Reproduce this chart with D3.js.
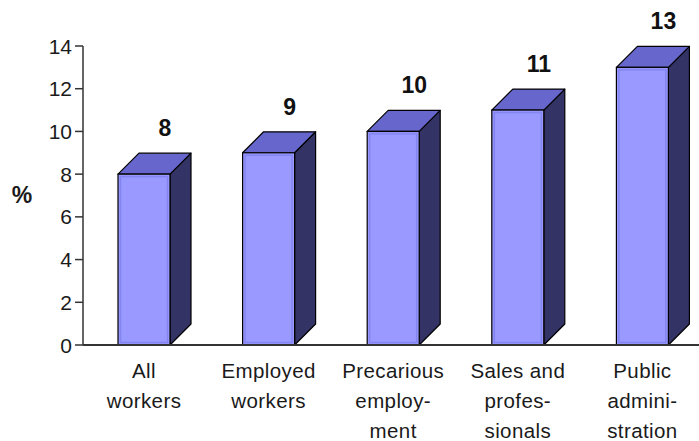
<!DOCTYPE html>
<html>
<head>
<meta charset="utf-8">
<script src="https://cdn.jsdelivr.net/npm/d3@7/dist/d3.min.js"></script>
<style>
  body { margin: 0; background: #fff; }
  svg { display: block; font-family: "Liberation Sans", Arial, sans-serif; }
</style>
</head>
<body>
<svg id="chart" width="699" height="441"></svg>
<script>
// values
const categories = ['All workers', 'Employed workers', 'Precarious employment', 'Sales and professionals', 'Public administration']
const labelLines = [
    ['All', 'workers'],
    ['Employed', 'workers'],
    ['Precarious', 'employ-', 'ment'],
    ['Sales and', 'profes-', 'sionals'],
    ['Public', 'admini-', 'stration']
]
const values = [8, 9, 10, 11, 13]
const yTicks = [0, 2, 4, 6, 8, 10, 12, 14]

const svg = d3.select('#chart')

const x = d3.scaleBand()
    .domain(categories)
    .range([83, 706])

const y = d3.scaleLinear()
    .domain([0, 14])
    .range([345, 46])

const barOffset = 35
const barWidth = 52
const depth = 21

const color = {
    front: '#9999ff',
    rim: '#8585f2',
    top: '#6666cc',
    side: '#333366'
}

// y axis
svg.append('line')
    .attr('x1', 83).attr('x2', 83)
    .attr('y1', y(14)).attr('y2', y(0))
    .attr('stroke', '#333').attr('stroke-width', 1.5)

svg.selectAll('.ytick')
    .data(yTicks)
    .enter()
    .append('line')
    .attr('class', 'ytick')
    .attr('x1', 75).attr('x2', 83)
    .attr('y1', d => y(d)).attr('y2', d => y(d))
    .attr('stroke', '#333').attr('stroke-width', 1.5)

svg.selectAll('.ylabel')
    .data(yTicks)
    .enter()
    .append('text')
    .attr('class', 'ylabel')
    .attr('x', 72)
    .attr('y', d => y(d) + 7.5)
    .attr('text-anchor', 'end')
    .attr('font-size', 21)
    .attr('fill', '#1a1a1a')
    .text(d => d)

svg.append('text')
    .attr('x', 22).attr('y', 203)
    .attr('text-anchor', 'middle')
    .attr('font-size', 23)
    .attr('font-weight', 'bold')
    .attr('fill', '#1a1a1a')
    .text('%')

// bars
const bars = svg.selectAll('.bar')
    .data(values)
    .enter()
    .append('g')
    .attr('class', 'bar')

bars.each(function (d, i) {
    const g = d3.select(this)
    const x0 = x(categories[i]) + barOffset
    const x1 = x0 + barWidth
    const yt = y(d)
    const yb = y(0)

    g.append('polygon')
        .attr('points', [[x1, yt], [x1 + depth, yt - depth], [x1 + depth, yb - depth], [x1, yb]].join(' '))
        .attr('fill', color.side)
        .attr('stroke', '#000').attr('stroke-width', 1.2).attr('stroke-linejoin', 'round')

    g.append('polygon')
        .attr('points', [[x0, yt], [x0 + depth, yt - depth], [x1 + depth, yt - depth], [x1, yt]].join(' '))
        .attr('fill', color.top)
        .attr('stroke', '#000').attr('stroke-width', 1.2).attr('stroke-linejoin', 'round')

    g.append('rect')
        .attr('x', x0).attr('y', yt)
        .attr('width', barWidth).attr('height', yb - yt)
        .attr('fill', color.front)
        .attr('stroke', '#000').attr('stroke-width', 1.2)

    g.append('rect')
        .attr('x', x0 + 2.5).attr('y', yt + 2.5)
        .attr('width', barWidth - 5).attr('height', yb - yt - 5)
        .attr('fill', 'none')
        .attr('stroke', color.rim).attr('stroke-width', 1.5)

    g.append('text')
        .attr('x', x0 + barWidth / 2 + depth)
        .attr('y', yt - depth - 17)
        .attr('text-anchor', 'middle')
        .attr('font-size', 23)
        .attr('font-weight', 'bold')
        .attr('fill', '#111')
        .text(d)
})

// x axis baseline
svg.append('line')
    .attr('x1', 83).attr('x2', 699)
    .attr('y1', y(0)).attr('y2', y(0))
    .attr('stroke', '#333').attr('stroke-width', 2)

// category labels
svg.selectAll('.xlabel')
    .data(labelLines)
    .enter()
    .append('text')
    .attr('class', 'xlabel')
    .attr('text-anchor', 'middle')
    .attr('font-size', 20.5)
    .attr('letter-spacing', 0.4)
    .attr('fill', '#1a1a1a')
    .each(function (lines, i) {
        const cx = x(categories[i]) + barOffset + barWidth / 2
        d3.select(this).selectAll('tspan')
            .data(lines)
            .enter()
            .append('tspan')
            .attr('x', cx)
            .attr('y', (l, j) => 378 + j * 30)
            .text(l => l)
    })
</script>
</body>
</html>
